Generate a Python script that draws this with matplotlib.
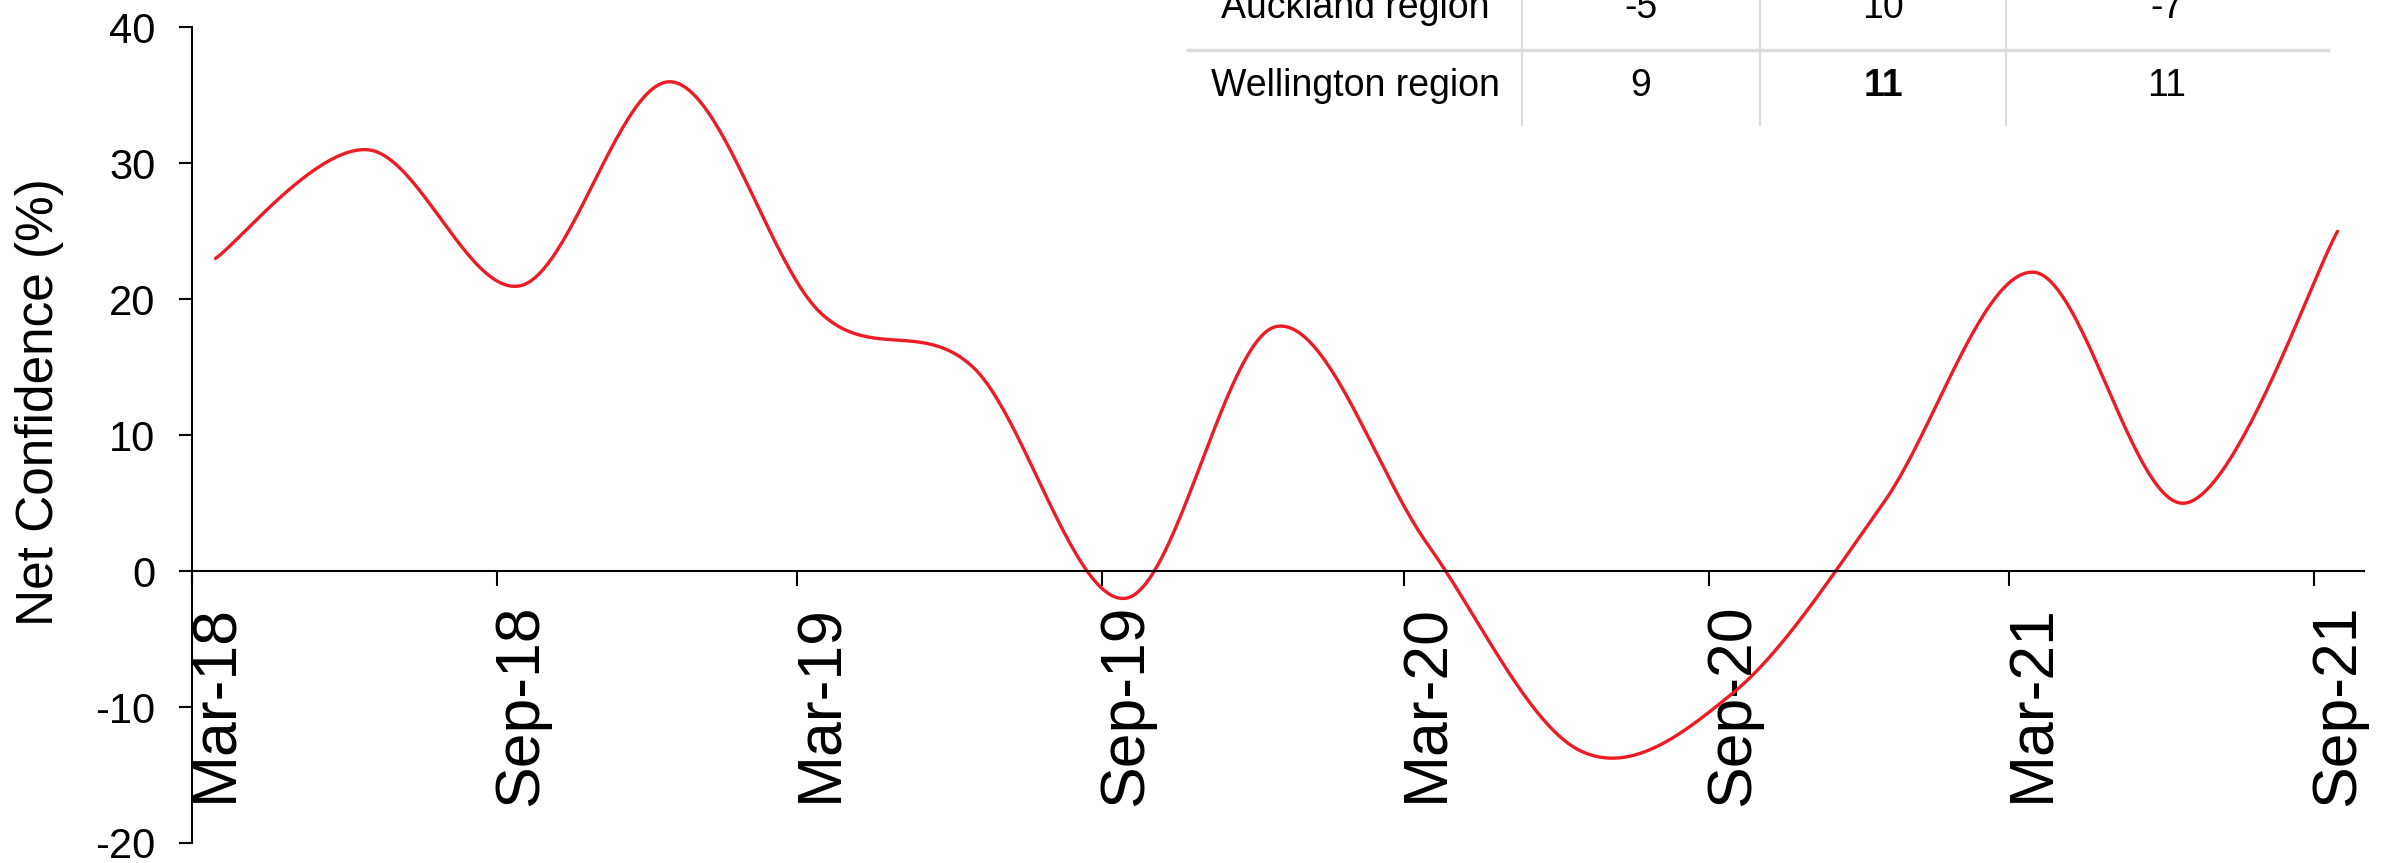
import numpy as np
import pandas as pd
import matplotlib
matplotlib.use('Agg')
import matplotlib.pyplot as plt
import matplotlib.dates as mdates
from matplotlib.lines import Line2D

plt.rcParams['font.family'] = ['Liberation Sans', 'DejaVu Sans']
plt.rcParams['axes.unicode_minus'] = False

# quarterly survey readings (net % confident)
quarters = ['2018-03', '2018-06', '2018-09', '2018-12', '2019-03', '2019-06',
            '2019-09', '2019-12', '2020-03', '2020-06', '2020-09', '2020-12',
            '2021-03', '2021-06', '2021-09']
net_confidence = [23, 31, 21, 36, 19, 15, -2, 18, 2, -13.2, -9, 5, 22, 5, 25]
tick_labels = ['Mar-18', 'Sep-18', 'Mar-19', 'Sep-19', 'Mar-20', 'Sep-20', 'Mar-21', 'Sep-21']

# the regional table in the top right (only two rows survive the crop)
table_regions = ['Auckland region', 'Wellington region']
table_col1 = ['-5', '9']
table_col2 = ['10', '11']
table_col3 = ['-7', '11']
bold_cells = [(1, 2)]

W, H = 2394, 863
RED = '#ED1C24'
GRID = '#DCDCDC'


def smooth(x, y, steps=50):
    # Excel-style smoothed line: cubic bezier through each point
    x = np.asarray(x, float)
    y = np.asarray(y, float)
    px = np.r_[x[0], x, x[-1]]
    py = np.r_[y[0], y, y[-1]]
    t = np.linspace(0, 1, steps)[:, None]
    xs, ys = [], []
    for i in range(len(x) - 1):
        p = np.array([[px[i + k], py[i + k]] for k in range(4)])
        c1 = p[1] + (p[2] - p[0]) / 6
        c2 = p[2] - (p[3] - p[1]) / 6
        seg = ((1 - t) ** 3) * p[1] + 3 * ((1 - t) ** 2) * t * c1 + 3 * (1 - t) * t ** 2 * c2 + t ** 3 * p[2]
        xs.append(seg[:, 0])
        ys.append(seg[:, 1])
    return np.concatenate(xs), np.concatenate(ys)


dates = pd.to_datetime(quarters) + pd.Timedelta(days=14)
xd = mdates.date2num(dates)
sx, sy = smooth(xd, net_confidence)

fig = plt.figure(figsize=(W / 100, H / 100), dpi=100)
ax = fig.add_axes([0.0803, 0.0232, 0.9072, 0.945])

ax.plot(sx, sy, color=RED, lw=2.4, solid_capstyle='round')

tick_dates = pd.to_datetime(tick_labels, format='%b-%y')
ax.set_xticks(mdates.date2num(tick_dates))
ax.set_xticklabels([])
ax.set_xticks(mdates.date2num(tick_dates + pd.Timedelta(days=14)), minor=True)
ax.set_xticklabels(tick_labels, minor=True)
ax.set_xlim(mdates.date2num(pd.Timestamp('2018-03-01')), mdates.date2num(pd.Timestamp('2021-10-01')))

ax.set_ylim(-20, 40)
ax.set_yticks(range(-20, 41, 10))
ax.tick_params(axis='y', labelsize=30, length=9.4, width=1.5, pad=17)
ax.tick_params(axis='x', which='major', length=11, width=1.5)
ax.tick_params(axis='x', which='minor', length=0, pad=24, labelsize=45, labelrotation=90)
ax.set_ylabel('Net Confidence (%)', fontsize=37)
ax.yaxis.set_label_coords(-0.059, 0.54)

ax.spines['top'].set_visible(False)
ax.spines['right'].set_visible(False)
ax.spines['bottom'].set_position(('data', 0))
ax.spines['left'].set_linewidth(1.5)
ax.spines['bottom'].set_linewidth(1.5)


def fx(px):
    return px / W


def fy(py):
    return 1 - py / H


# table grid
fig.add_artist(Line2D([fx(1188), fx(2328)], [fy(50), fy(50)], color=GRID, lw=2.5))
for xv in [1522, 1760, 2006]:
    fig.add_artist(Line2D([fx(xv), fx(xv)], [fy(0), fy(125)], color=GRID, lw=1.5))

col_centers = [1355, 1641, 1883, 2167]
row_centers = [8, 86]
for r, region in enumerate(table_regions):
    cells = [region, table_col1[r], table_col2[r], table_col3[r]]
    for c, val in enumerate(cells):
        weight = 'bold' if (r, c) in bold_cells else 'normal'
        fig.text(fx(col_centers[c]), fy(row_centers[r]), val, ha='center', va='center',
                 fontsize=27, fontweight=weight)

fig.savefig('out.png', dpi=100)
